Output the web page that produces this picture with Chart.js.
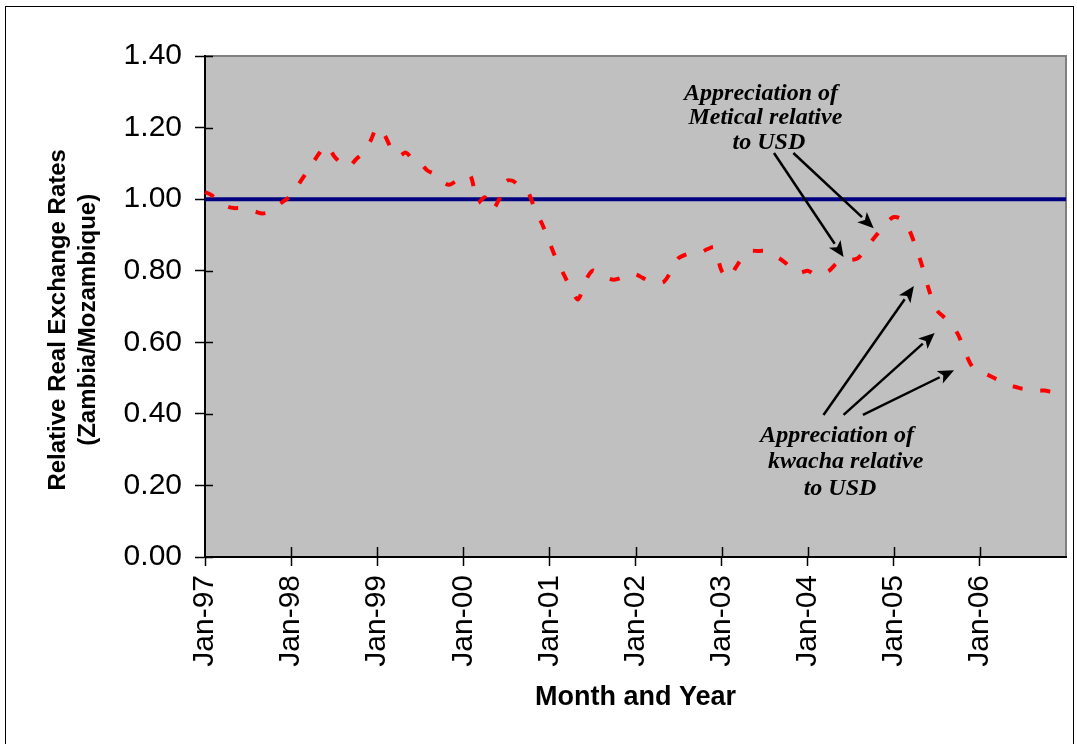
<!DOCTYPE html>
<html>
<head>
<meta charset="utf-8">
<title>Relative Real Exchange Rates (Zambia/Mozambique)</title>
<script src="https://cdn.jsdelivr.net/npm/chart.js@4.4.1/dist/chart.umd.min.js"></script>
<style>
  html, body { margin: 0; padding: 0; background: #ffffff; }
  #wrap { width: 1077px; height: 744px; }
</style>
</head>
<body>
<div id="wrap"><canvas id="rerChart" width="1077" height="744"></canvas></div>
<script>
// Month-by-month axis: Jan-97 through Jan-07
const monthNames = ['Jan', 'Feb', 'Mar', 'Apr', 'May', 'Jun', 'Jul', 'Aug', 'Sep', 'Oct', 'Nov', 'Dec'];
const yearLabels = ['97', '98', '99', '00', '01', '02', '03', '04', '05', '06', '07'];

// Relative real exchange rate, Zambia/Mozambique, monthly Jan-97 .. Dec-06
const rer1997 = [1.02, 1.01, 0.99, 0.98, 0.975, 0.975, 0.97, 0.965, 0.96, 0.965, 0.98, 0.995];
const rer1998 = [1.01, 1.04, 1.07, 1.10, 1.13, 1.15, 1.12, 1.10, 1.09, 1.11, 1.13, 1.16];
const rer1999 = [1.20, 1.18, 1.14, 1.12, 1.13, 1.11, 1.10, 1.08, 1.07, 1.05, 1.04, 1.05];
const rer2000 = [1.055, 1.065, 0.99, 1.005, 0.97, 1.00, 1.05, 1.05, 1.03, 1.02, 0.97, 0.93];
const rer2001 = [0.88, 0.83, 0.79, 0.75, 0.72, 0.77, 0.80, 0.79, 0.78, 0.775, 0.78, 0.79];
const rer2002 = [0.79, 0.78, 0.77, 0.765, 0.77, 0.80, 0.835, 0.845, 0.85, 0.85, 0.86, 0.865];
const rer2003 = [0.80, 0.78, 0.81, 0.84, 0.855, 0.855, 0.855, 0.845, 0.835, 0.82, 0.80, 0.795];
const rer2004 = [0.80, 0.79, 0.79, 0.80, 0.82, 0.83, 0.83, 0.835, 0.86, 0.885, 0.91, 0.935];
const rer2005 = [0.95, 0.945, 0.92, 0.87, 0.81, 0.74, 0.69, 0.67, 0.65, 0.62, 0.57, 0.53];
const rer2006 = [0.52, 0.51, 0.50, 0.49, 0.48, 0.475, 0.47, 0.47, 0.465, 0.465, 0.462, 0.46];

// Parity reference level
const parityLevel = 1.00;

// Value axis
const yMin = 0, yMax = 1.4, yStep = 0.2;

// Annotation texts
const meticalNote = ['Appreciation of', 'Metical relative', 'to USD'];
const kwachaNote = ['Appreciation of', 'kwacha relative', 'to USD'];

const monthLabels = [];
yearLabels.forEach((yy, i) => {
  monthNames.forEach((mm, j) => {
    if (i < yearLabels.length - 1 || j === 0) monthLabels.push(mm + '-' + yy);
  });
});
const rerSeries = [].concat(rer1997, rer1998, rer1999, rer2000, rer2001,
                            rer2002, rer2003, rer2004, rer2005, rer2006);
const firstLabel = monthLabels[0];
const lastLabel = monthLabels[monthLabels.length - 1];

const SANS = "'Liberation Sans', Arial, Helvetica, sans-serif";
const SERIF = "'Liberation Serif', 'Times New Roman', serif";

// Annotation anchors in axis units (month index, ratio), one per text line
const meticalText = { x: [77.5, 78.1, 78.6], y: [1.294, 1.227, 1.157] };
const kwachaText  = { x: [88.1, 89.3, 88.5], y: [0.338, 0.265, 0.190] };
const meticalArrows = [
  { from: [79.3, 1.129], to: [89.0, 0.838] },
  { from: [82.0, 1.129], to: [93.2, 0.919] }
];
const kwachaArrows = [
  { from: [86.2, 0.397], to: [98.8, 0.757] },
  { from: [89.0, 0.397], to: [101.7, 0.626] },
  { from: [91.7, 0.397], to: [104.4, 0.522] }
];

// Frame, grey plot area and tick marks that cross the axes
const plotFrame = {
  id: 'plotFrame',
  beforeDraw(chart) {
    const { ctx, chartArea: a } = chart;
    ctx.save();
    ctx.fillStyle = '#ffffff';
    ctx.fillRect(0, 0, chart.width, chart.height);
    ctx.strokeStyle = '#000000';
    ctx.lineWidth = 1;
    ctx.strokeRect(5.5, 6.5, chart.width - 9, chart.height + 20);
    ctx.fillStyle = '#c0c0c0';
    ctx.fillRect(a.left, a.top, a.right - a.left, a.bottom - a.top);
    ctx.strokeStyle = '#808080';
    ctx.lineWidth = 2;
    ctx.beginPath();
    ctx.moveTo(a.left, a.top);
    ctx.lineTo(a.right, a.top);
    ctx.lineTo(a.right, a.bottom);
    ctx.stroke();
    ctx.restore();
  },
  beforeDatasetsDraw(chart) {
    const { ctx, chartArea: a, scales: { x, y } } = chart;
    ctx.save();
    ctx.strokeStyle = '#000000';
    ctx.lineWidth = 1.5;
    ctx.beginPath();
    y.ticks.forEach(t => {
      const py = Math.round(y.getPixelForValue(t.value)) + 0.5;
      ctx.moveTo(a.left, py);
      ctx.lineTo(a.left + 8, py);
    });
    x.ticks.forEach((t, i) => {
      if (t.label === null || t.label === undefined || i === 0) return;
      const px = Math.round(x.getPixelForTick(i)) + 0.5;
      ctx.moveTo(px, a.bottom);
      ctx.lineTo(px, a.bottom - 10);
    });
    ctx.stroke();
    ctx.restore();
  },
  afterDatasetsDraw(chart) {
    const { ctx, scales: { x, y } } = chart;
    const px = v => x.getPixelForValue(v);
    const py = v => y.getPixelForValue(v);
    ctx.save();
    ctx.strokeStyle = '#000000';
    ctx.fillStyle = '#000000';
    ctx.lineWidth = 2.5;
    [...meticalArrows, ...kwachaArrows].forEach(ar => {
      const x0 = px(ar.from[0]), y0 = py(ar.from[1]);
      const x1 = px(ar.to[0]), y1 = py(ar.to[1]);
      const ang = Math.atan2(y1 - y0, x1 - x0);
      const headLen = 16, headHalf = 7;
      const bx = x1 - headLen * Math.cos(ang), by = y1 - headLen * Math.sin(ang);
      ctx.beginPath();
      ctx.moveTo(x0, y0);
      ctx.lineTo(bx, by);
      ctx.stroke();
      ctx.beginPath();
      ctx.moveTo(x1, y1);
      ctx.lineTo(bx + headHalf * Math.sin(ang), by - headHalf * Math.cos(ang));
      ctx.lineTo(x1 - (headLen - 4) * Math.cos(ang), y1 - (headLen - 4) * Math.sin(ang));
      ctx.lineTo(bx - headHalf * Math.sin(ang), by + headHalf * Math.cos(ang));
      ctx.closePath();
      ctx.fill();
    });
    ctx.font = 'italic bold 24px ' + SERIF;
    ctx.textAlign = 'center';
    ctx.textBaseline = 'middle';
    ctx.fillStyle = '#000000';
    meticalNote.forEach((line, i) => ctx.fillText(line, px(meticalText.x[i]), py(meticalText.y[i])));
    kwachaNote.forEach((line, i) => ctx.fillText(line, px(kwachaText.x[i]), py(kwachaText.y[i])));
    ctx.restore();
  }
};

new Chart(document.getElementById('rerChart'), {
  type: 'line',
  data: {
    labels: monthLabels,
    datasets: [
      {
        label: 'Parity',
        data: [{ x: firstLabel, y: parityLevel }, { x: lastLabel, y: parityLevel }],
        borderColor: '#000080',
        borderWidth: 4,
        pointRadius: 0,
        fill: false,
        order: 2
      },
      {
        label: 'Relative Real Exchange Rate',
        data: rerSeries,
        borderColor: '#ff0000',
        borderWidth: 4,
        borderDash: [10, 18],
        borderCapStyle: 'butt',
        tension: 0.3,
        pointRadius: 0,
        fill: false,
        order: 1
      }
    ]
  },
  plugins: [plotFrame],
  options: {
    responsive: false,
    animation: false,
    devicePixelRatio: 1,
    layout: { padding: { top: 56, right: 11, left: 0, bottom: 0 } },
    plugins: { legend: { display: false }, tooltip: { enabled: false } },
    scales: {
      x: {
        type: 'category',
        offset: false,
        afterFit(scale) { scale.height = 187; },
        grid: {
          drawOnChartArea: false,
          drawTicks: true,
          tickLength: 9,
          tickWidth: 1.5,
          tickColor: ctx => (ctx.tick && ctx.tick.label != null) ? '#000000' : 'rgba(0,0,0,0)'
        },
        border: { color: '#000000', width: 2 },
        ticks: {
          autoSkip: false,
          maxRotation: 90,
          minRotation: 90,
          padding: 9,
          color: '#000000',
          font: { family: SANS, size: 30 },
          callback(value, index) {
            const lab = this.getLabelForValue(value);
            return (lab.startsWith('Jan') && index < monthLabels.length - 1) ? lab : null;
          }
        },
        title: {
          display: true,
          text: 'Month and Year',
          color: '#000000',
          font: { family: SANS, size: 27, weight: 'bold', lineHeight: 1.2 },
          padding: { top: 0, bottom: 30 }
        }
      },
      y: {
        min: yMin,
        max: yMax,
        afterFit(scale) { scale.width = 205; },
        grid: {
          drawOnChartArea: false,
          drawTicks: true,
          tickLength: 10,
          tickWidth: 1.5,
          tickColor: '#000000'
        },
        border: { color: '#000000', width: 2 },
        ticks: {
          stepSize: yStep,
          padding: 13,
          color: '#000000',
          font: { family: SANS, size: 30 },
          callback: v => Number(v).toFixed(2)
        },
        title: {
          display: true,
          text: ['Relative Real Exchange Rates    ', '(Zambia/Mozambique)    '],
          color: '#000000',
          font: { family: SANS, size: 24, weight: 'bold', lineHeight: 1.25 },
          padding: { top: 43, bottom: 0 }
        }
      }
    }
  }
});
</script>
</body>
</html>
